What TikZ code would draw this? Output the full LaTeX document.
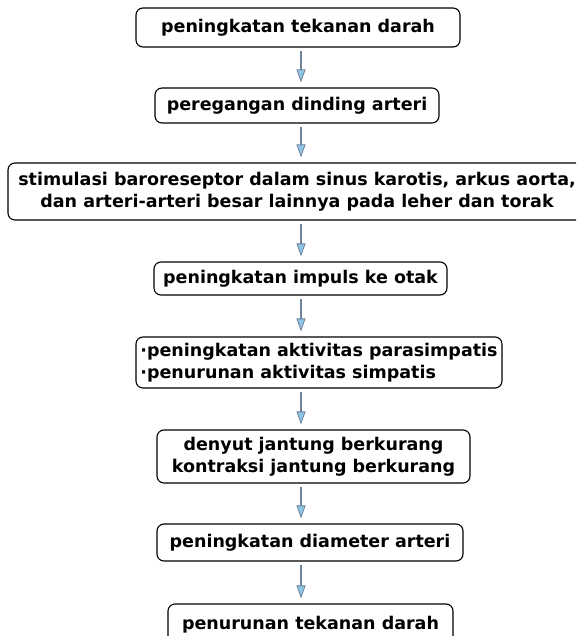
\documentclass[tikz,border=0pt]{standalone}
\usepackage{fontspec}
\setsansfont{DejaVu Sans}
\usepackage{tikz}
\usetikzlibrary{arrows.meta, positioning}
\definecolor{panahisi}{RGB}{142,196,228}
\definecolor{panahgaris}{RGB}{110,130,155}

\begin{document}
\begin{tikzpicture}[
    x=1pt, y=-1pt,
    langkah/.style={draw, line width=1.1pt, rounded corners=7pt, fill=white, inner sep=0pt, align=center, font=\sffamily\bfseries\fontsize{17.5}{22}\selectfont},
    arrow/.style={-{Triangle[length=13pt, width=9pt, fill=panahisi, line width=0.8pt]}, line width=1.8pt, draw=panahgaris, shorten <=3.5pt, shorten >=5pt}
]
    \useasboundingbox (0,0) rectangle (576,636);
    \clip (0,0) rectangle (576,636);
    % Langkah
    \node[langkah, minimum width=324pt, minimum height=39pt] (tekanannaik) at (298,27.5) {peningkatan tekanan darah};
    \node[langkah, minimum width=284pt, minimum height=35pt] (dinding) at (297,105.5) {peregangan dinding arteri};
    \node[langkah, minimum width=578pt, minimum height=57pt] (baroreseptor) at (297,191.5) {stimulasi baroreseptor dalam sinus karotis, arkus aorta,\\dan arteri-arteri besar lainnya pada leher dan torak};
    \node[langkah, minimum width=293pt, minimum height=33pt] (impuls) at (300.5,278.5) {peningkatan impuls ke otak};
    \node[langkah, minimum width=366pt, minimum height=51pt, align=left] (saraf) at (319,362.5) {·peningkatan aktivitas parasimpatis\\·penurunan aktivitas simpatis};
    \node[langkah, minimum width=313pt, minimum height=53pt] (jantung) at (313.5,456.5) {denyut jantung berkurang\\kontraksi jantung berkurang};
    \node[langkah, minimum width=306pt, minimum height=37pt] (diameter) at (310,542.5) {peningkatan diameter arteri};
    \node[langkah, minimum width=285pt, minimum height=42pt] (tekananturun) at (310.5,625) {penurunan tekanan darah};

    % Panah
    \coordinate (sumbu) at (301,0);
    \draw[arrow] (sumbu |- tekanannaik.south) -- (sumbu |- dinding.north);
    \draw[arrow] (sumbu |- dinding.south) -- (sumbu |- baroreseptor.north);
    \draw[arrow] (sumbu |- baroreseptor.south) -- (sumbu |- impuls.north);
    \draw[arrow] (sumbu |- impuls.south) -- (sumbu |- saraf.north);
    \draw[arrow] (sumbu |- saraf.south) -- (sumbu |- jantung.north);
    \draw[arrow] (sumbu |- jantung.south) -- (sumbu |- diameter.north);
    \draw[arrow] (sumbu |- diameter.south) -- (sumbu |- tekananturun.north);
\end{tikzpicture}
\end{document}
